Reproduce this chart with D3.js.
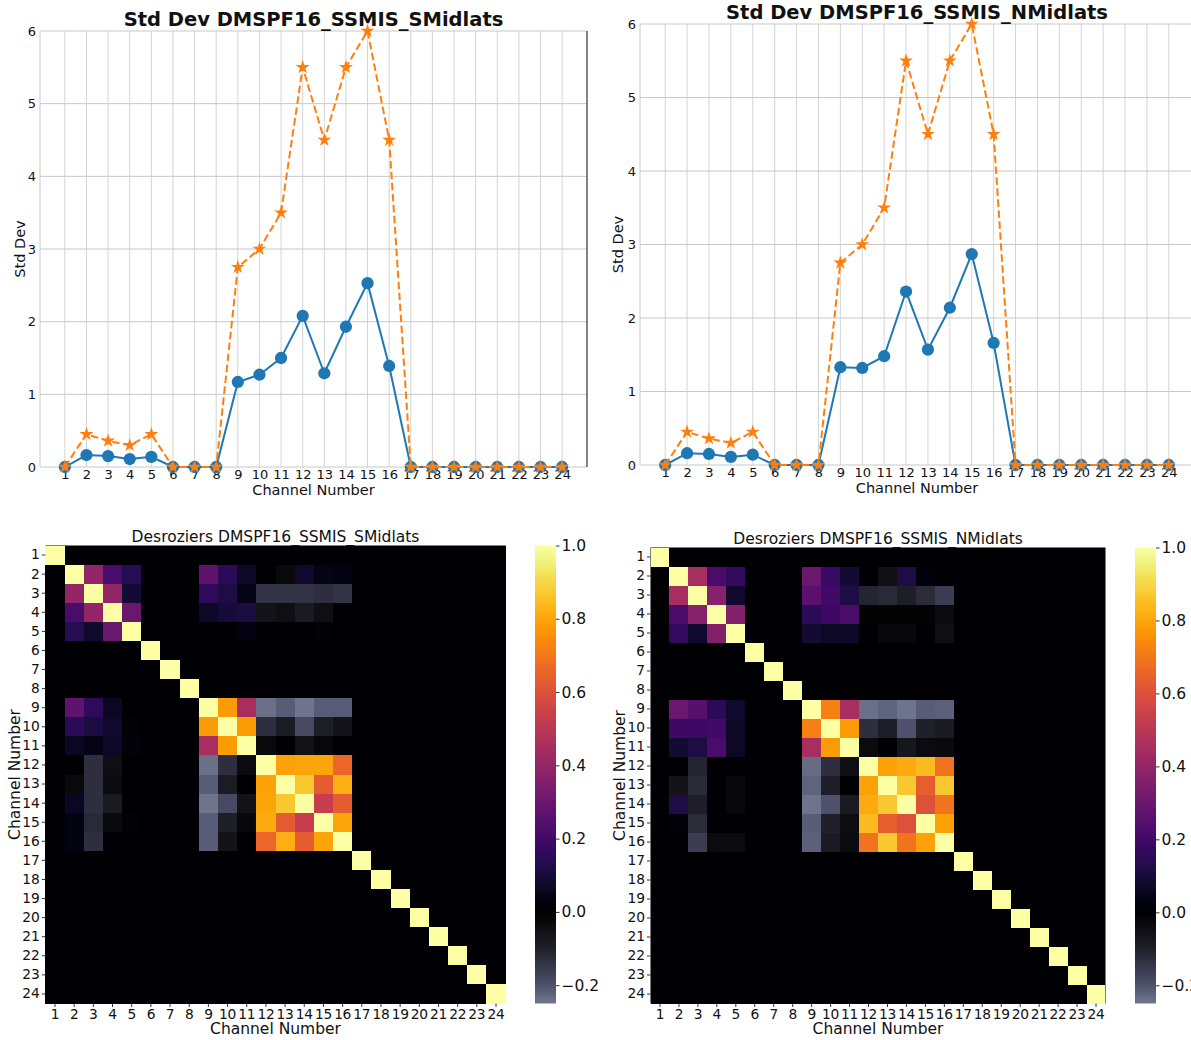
<!DOCTYPE html>
<html>
<head>
<meta charset="utf-8">
<script src="https://cdn.jsdelivr.net/npm/d3@7"></script>
<style>
  body { margin: 0; background: #fff; }
  text { font-family: "DejaVu Sans", sans-serif; fill: #111; }
</style>
</head>
<body>
<svg id="chart" width="1191" height="1040"></svg>
<script>
// ---- data ----
const channels = d3.range(1, 25);
const stdTicks = [0, 1, 2, 3, 4, 5, 6];
const cbTicks = [-0.2, 0, 0.2, 0.4, 0.6, 0.8, 1.0];

// std dev per channel (blue = solid/circles, orange = dashed/stars)
const sBlue   = [0, 0.165, 0.15, 0.11, 0.14, 0, 0, 0, 1.17, 1.27, 1.5, 2.08, 1.29, 1.93, 2.53, 1.39, 0, 0, 0, 0, 0, 0, 0, 0];
const sOrange = [0, 0.45, 0.36, 0.3, 0.45, 0, 0, 0, 2.75, 3.0, 3.5, 5.5, 4.5, 5.5, 6.0, 4.5, 0, 0, 0, 0, 0, 0, 0, 0];
const nBlue   = [0, 0.16, 0.15, 0.11, 0.14, 0, 0, 0, 1.33, 1.32, 1.48, 2.36, 1.57, 2.14, 2.87, 1.66, 0, 0, 0, 0, 0, 0, 0, 0];
const nOrange = [0, 0.45, 0.36, 0.3, 0.45, 0, 0, 0, 2.75, 3.0, 3.5, 5.5, 4.5, 5.5, 6.0, 4.5, 0, 0, 0, 0, 0, 0, 0, 0];

// Desroziers correlation matrices (row = channel, col = channel)
const sCorr = [
  [1,0,0,0,0,0,0,0,0,0,0,0,0,0,0,0,0,0,0,0,0,0,0,0],
  [0,1,0.40,0.22,0.14,0,0,0,0.27,0.15,0.07,0,-0.03,0.08,0.04,0.03,0,0,0,0,0,0,0,0],
  [0,0.40,1,0.40,0.09,0,0,0,0.16,0.12,0.04,-0.14,-0.14,-0.14,-0.13,-0.14,0,0,0,0,0,0,0,0],
  [0,0.22,0.40,1,0.30,0,0,0,0.07,0.10,0.11,-0.06,-0.045,-0.08,-0.045,0,0,0,0,0,0,0,0,0],
  [0,0.14,0.08,0.30,1,0,0,0,0,0,0.03,0,0,0,0.01,0,0,0,0,0,0,0,0,0],
  [0,0,0,0,0,1,0,0,0,0,0,0,0,0,0,0,0,0,0,0,0,0,0,0],
  [0,0,0,0,0,0,1,0,0,0,0,0,0,0,0,0,0,0,0,0,0,0,0,0],
  [0,0,0,0,0,0,0,1,0,0,0,0,0,0,0,0,0,0,0,0,0,0,0,0],
  [0,0.27,0.16,0.06,0,0,0,0,1,0.78,0.45,-0.24,-0.215,-0.245,-0.215,-0.215,0,0,0,0,0,0,0,0],
  [0,0.15,0.11,0.08,0.01,0,0,0,0.78,1,0.78,-0.13,-0.085,-0.185,-0.095,-0.06,0,0,0,0,0,0,0,0],
  [0,0.06,0.04,0.07,0.02,0,0,0,0.45,0.78,1,-0.03,0,-0.055,-0.025,0,0,0,0,0,0,0,0,0],
  [0,0,-0.13,-0.045,0,0,0,0,-0.24,-0.13,-0.035,1,0.79,0.80,0.80,0.66,0,0,0,0,0,0,0,0],
  [0,-0.03,-0.13,-0.035,0,0,0,0,-0.215,-0.085,0,0.79,1,0.87,0.63,0.82,0,0,0,0,0,0,0,0],
  [0,0.06,-0.13,-0.08,0,0,0,0,-0.245,-0.185,-0.055,0.80,0.87,1,0.53,0.63,0,0,0,0,0,0,0,0],
  [0,0.03,-0.12,-0.03,0.01,0,0,0,-0.215,-0.095,-0.025,0.81,0.63,0.53,1,0.80,0,0,0,0,0,0,0,0],
  [0,0.03,-0.13,0,0,0,0,0,-0.215,-0.06,0,0.66,0.82,0.63,0.80,1,0,0,0,0,0,0,0,0],
  [0,0,0,0,0,0,0,0,0,0,0,0,0,0,0,0,1,0,0,0,0,0,0,0],
  [0,0,0,0,0,0,0,0,0,0,0,0,0,0,0,0,0,1,0,0,0,0,0,0],
  [0,0,0,0,0,0,0,0,0,0,0,0,0,0,0,0,0,0,1,0,0,0,0,0],
  [0,0,0,0,0,0,0,0,0,0,0,0,0,0,0,0,0,0,0,1,0,0,0,0],
  [0,0,0,0,0,0,0,0,0,0,0,0,0,0,0,0,0,0,0,0,1,0,0,0],
  [0,0,0,0,0,0,0,0,0,0,0,0,0,0,0,0,0,0,0,0,0,1,0,0],
  [0,0,0,0,0,0,0,0,0,0,0,0,0,0,0,0,0,0,0,0,0,0,1,0],
  [0,0,0,0,0,0,0,0,0,0,0,0,0,0,0,0,0,0,0,0,0,0,0,1]
];
const nCorr = [
  [1,0,0,0,0,0,0,0,0,0,0,0,0,0,0,0,0,0,0,0,0,0,0,0],
  [0,1,0.45,0.22,0.17,0,0,0,0.30,0.18,0.09,0,-0.05,0.12,0.02,0,0,0,0,0,0,0,0,0],
  [0,0.45,1,0.37,0.08,0,0,0,0.26,0.20,0.12,-0.11,-0.12,-0.095,-0.125,-0.16,0,0,0,0,0,0,0,0],
  [0,0.22,0.37,1,0.36,0,0,0,0.15,0.19,0.22,-0.01,-0.01,-0.01,-0.01,-0.035,0,0,0,0,0,0,0,0],
  [0,0.17,0.08,0.36,1,0,0,0,0.09,0.07,0.07,0,-0.025,-0.025,0,-0.045,0,0,0,0,0,0,0,0],
  [0,0,0,0,0,1,0,0,0,0,0,0,0,0,0,0,0,0,0,0,0,0,0,0],
  [0,0,0,0,0,0,1,0,0,0,0,0,0,0,0,0,0,0,0,0,0,0,0,0],
  [0,0,0,0,0,0,0,1,0,0,0,0,0,0,0,0,0,0,0,0,0,0,0,0],
  [0,0.30,0.25,0.15,0.08,0,0,0,1,0.72,0.45,-0.24,-0.225,-0.245,-0.215,-0.22,0,0,0,0,0,0,0,0],
  [0,0.19,0.19,0.20,0.07,0,0,0,0.72,1,0.78,-0.13,-0.095,-0.2,-0.1,-0.08,0,0,0,0,0,0,0,0],
  [0,0.09,0.12,0.22,0.07,0,0,0,0.45,0.78,1,-0.035,0,-0.07,-0.035,-0.03,0,0,0,0,0,0,0,0],
  [0,0,-0.11,0,0,0,0,0,-0.235,-0.13,-0.045,1,0.79,0.81,0.84,0.69,0,0,0,0,0,0,0,0],
  [0,-0.06,-0.12,0,-0.025,0,0,0,-0.225,-0.095,0,0.79,1,0.87,0.64,0.87,0,0,0,0,0,0,0,0],
  [0,0.12,-0.095,0,-0.025,0,0,0,-0.245,-0.2,-0.08,0.81,0.87,1,0.60,0.69,0,0,0,0,0,0,0,0],
  [0,0.02,-0.125,0,0,0,0,0,-0.215,-0.1,-0.04,0.84,0.64,0.60,1,0.79,0,0,0,0,0,0,0,0],
  [0,0,-0.16,-0.035,-0.035,0,0,0,-0.22,-0.08,-0.035,0.69,0.87,0.69,0.79,1,0,0,0,0,0,0,0,0],
  [0,0,0,0,0,0,0,0,0,0,0,0,0,0,0,0,1,0,0,0,0,0,0,0],
  [0,0,0,0,0,0,0,0,0,0,0,0,0,0,0,0,0,1,0,0,0,0,0,0],
  [0,0,0,0,0,0,0,0,0,0,0,0,0,0,0,0,0,0,1,0,0,0,0,0],
  [0,0,0,0,0,0,0,0,0,0,0,0,0,0,0,0,0,0,0,1,0,0,0,0],
  [0,0,0,0,0,0,0,0,0,0,0,0,0,0,0,0,0,0,0,0,1,0,0,0],
  [0,0,0,0,0,0,0,0,0,0,0,0,0,0,0,0,0,0,0,0,0,1,0,0],
  [0,0,0,0,0,0,0,0,0,0,0,0,0,0,0,0,0,0,0,0,0,0,1,0],
  [0,0,0,0,0,0,0,0,0,0,0,0,0,0,0,0,0,0,0,0,0,0,0,1]
];

const svg = d3.select("#chart");

// negative side: slate -> black, positive side: inferno
const negScale = d3.scaleLinear()
  .domain([-0.25, -0.2, -0.1, 0])
  .range(["#70788e", "#4e506c", "#20202a", "#000000"])
  .clamp(true);
function corrColor(v) {
  return v < 0 ? negScale(v) : d3.interpolateInferno(Math.min(v, 1));
}

function fmtTick(v) {
  return d3.format(".1f")(v).replace("-", "\u2212");
}

// ---- std dev line panel ----
function linePanel(o) {
  const g = svg.append("g");
  const x = d3.scaleLinear().domain([-0.15, 25.15]).range([o.x0, o.x1]);
  const y = d3.scaleLinear().domain([0, 6]).range([o.y1, o.y0]);

  // grid
  g.selectAll(".vg").data(channels).enter().append("line")
    .attr("x1", d => x(d)).attr("x2", d => x(d))
    .attr("y1", o.y0).attr("y2", o.y1)
    .attr("stroke", "#d4d4d4").attr("stroke-width", 1);
  g.selectAll(".hg").data(stdTicks).enter().append("line")
    .attr("x1", o.x0).attr("x2", o.x1)
    .attr("y1", d => y(d)).attr("y2", d => y(d))
    .attr("stroke", "#c8c8c8").attr("stroke-width", 1);
  // frame
  g.append("line").attr("x1", o.x0).attr("x2", o.x0).attr("y1", o.y0).attr("y2", o.y1)
    .attr("stroke", "#c8c8c8");
  g.append("line").attr("x1", o.x1).attr("x2", o.x1).attr("y1", o.y0).attr("y2", o.y1)
    .attr("stroke", "#333").attr("stroke-width", 1.2);

  // axes
  const xa = g.append("g").attr("transform", `translate(0,${o.y1})`)
    .call(d3.axisBottom(x).tickValues(channels).tickSize(0).tickPadding(3));
  const ya = g.append("g").attr("transform", `translate(${o.x0},0)`)
    .call(d3.axisLeft(y).tickValues(stdTicks).tickSize(0).tickPadding(4).tickFormat(d3.format("d")));
  [xa, ya].forEach(a => {
    a.select(".domain").remove();
    a.selectAll("text").style("font-size", "13px").attr("fill", "#111");
  });

  const pts = (vals) => vals.map((v, i) => [x(channels[i]), y(v)]);

  // blue solid line with circles
  g.append("path").attr("d", d3.line()(pts(o.blue)))
    .attr("fill", "none").attr("stroke", "#1f77b4").attr("stroke-width", 2);
  g.selectAll(".bm").data(pts(o.blue)).enter().append("path")
    .attr("transform", d => `translate(${d[0]},${d[1]})`)
    .attr("d", d3.symbol().type(d3.symbolCircle).size(118))
    .attr("fill", "#1f77b4");

  // orange dashed line with stars
  g.append("path").attr("d", d3.line()(pts(o.orange)))
    .attr("fill", "none").attr("stroke", "#ff7f0e").attr("stroke-width", 2)
    .attr("stroke-dasharray", "7.5,3.5");
  g.selectAll(".om").data(pts(o.orange)).enter().append("path")
    .attr("transform", d => `translate(${d[0]},${d[1]})`)
    .attr("d", d3.symbol().type(d3.symbolStar).size(60))
    .attr("fill", "#ff7f0e");

  // labels
  const cx = (o.x0 + o.x1) / 2;
  g.append("text").attr("x", cx).attr("y", o.titleY).attr("text-anchor", "middle")
    .style("font-size", "19.5px").style("font-weight", "bold").text(o.title);
  g.append("text").attr("x", cx).attr("y", o.y1 + 28).attr("text-anchor", "middle")
    .style("font-size", "14.5px").text("Channel Number");
  g.append("text").attr("transform", `translate(${o.ylabX},${(o.y0 + o.y1) / 2}) rotate(-90)`)
    .attr("text-anchor", "middle").attr("dy", "0.35em")
    .style("font-size", "14.5px").text("Std Dev");
}

// ---- Desroziers heatmap panel ----
function heatPanel(o) {
  const g = svg.append("g");
  const x = d3.scaleBand().domain(channels).range([o.x0, o.x1]);
  const y = d3.scaleBand().domain(channels).range([o.y0, o.y1]);

  const cells = [];
  o.corr.forEach((row, i) => row.forEach((v, j) => cells.push({ r: channels[i], c: channels[j], v: v })));
  g.append("rect").attr("x", o.x0).attr("y", o.y0)
    .attr("width", o.x1 - o.x0).attr("height", o.y1 - o.y0).attr("fill", "#000");
  g.selectAll(".cell").data(cells).enter().append("rect")
    .attr("x", d => Math.round(x(d.c))).attr("y", d => Math.round(y(d.r)))
    .attr("width", d => Math.round(x(d.c) + x.bandwidth()) - Math.round(x(d.c)))
    .attr("height", d => Math.round(y(d.r) + y.bandwidth()) - Math.round(y(d.r)))
    .attr("shape-rendering", "crispEdges")
    .attr("fill", d => corrColor(d.v));

  const xa = g.append("g").attr("transform", `translate(0,${o.y1})`)
    .call(d3.axisBottom(x).tickSize(3.5).tickPadding(2));
  const ya = g.append("g").attr("transform", `translate(${o.x0},0)`)
    .call(d3.axisLeft(y).tickSize(3.5).tickPadding(2));
  [xa, ya].forEach(a => {
    a.select(".domain").remove();
    a.selectAll("line").attr("stroke", "#333");
    a.selectAll("text").style("font-size", "13.8px").attr("fill", "#111");
  });
  xa.selectAll("text").attr("letter-spacing", "-0.3px");

  const cx = (o.x0 + o.x1) / 2;
  g.append("text").attr("x", cx).attr("y", o.y0 - 4).attr("text-anchor", "middle")
    .style("font-size", "15.5px").text(o.title);
  g.append("text").attr("x", cx).attr("y", o.y1 + 30).attr("text-anchor", "middle")
    .style("font-size", "15.5px").text("Channel Number");
  g.append("text").attr("transform", `translate(${o.ylabX},${(o.y0 + o.y1) / 2}) rotate(-90)`)
    .attr("text-anchor", "middle").attr("dy", "0.35em")
    .style("font-size", "15.5px").text("Channel Number");

  // colorbar
  const cb = d3.scaleLinear().domain([-0.25, 1]).range([o.y1, o.y0]);
  const gid = "grad" + o.id;
  const grad = svg.append("defs").append("linearGradient").attr("id", gid)
    .attr("x1", 0).attr("x2", 0).attr("y1", 1).attr("y2", 0);
  d3.range(0, 1.0001, 0.01).forEach(t => {
    const v = -0.25 + t * 1.25;
    grad.append("stop").attr("offset", t).attr("stop-color", corrColor(v));
  });
  g.append("rect").attr("x", o.cbX).attr("y", o.y0).attr("width", 21).attr("height", o.y1 - o.y0)
    .attr("fill", `url(#${gid})`);
  const ca = g.append("g").attr("transform", `translate(${o.cbX + 21},0)`)
    .call(d3.axisRight(cb).tickValues(cbTicks).tickSize(3.5).tickPadding(2).tickFormat(fmtTick));
  ca.select(".domain").remove();
  ca.selectAll("line").attr("stroke", "#333");
  ca.selectAll("text").style("font-size", "15.5px").attr("fill", "#111");
}

linePanel({ x0: 40, x1: 587, y0: 31, y1: 467, titleY: 26, ylabX: 20,
  title: "Std Dev DMSPF16_SSMIS_SMidlats", blue: sBlue, orange: sOrange });
linePanel({ x0: 640, x1: 1194, y0: 24, y1: 465, titleY: 19, ylabX: 618,
  title: "Std Dev DMSPF16_SSMIS_NMidlats", blue: nBlue, orange: nOrange });

heatPanel({ id: "s", x0: 45.4, x1: 505.6, y0: 545.5, y1: 1003.5, ylabX: 15, cbX: 535,
  title: "Desroziers DMSPF16_SSMIS_SMidlats", corr: sCorr });
heatPanel({ id: "n", x0: 650.5, x1: 1105.5, y0: 547.5, y1: 1003.5, ylabX: 620, cbX: 1135,
  title: "Desroziers DMSPF16_SSMIS_NMidlats", corr: nCorr });
</script>
</body>
</html>
